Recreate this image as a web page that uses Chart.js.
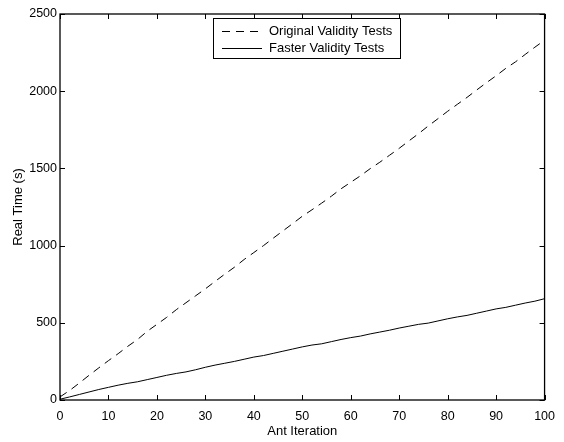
<!DOCTYPE html>
<html>
<head>
<meta charset="utf-8">
<title>Real Time vs Ant Iteration</title>
<script src="https://cdn.jsdelivr.net/npm/chart.js@4.4.1/dist/chart.umd.min.js"></script>
<style>
  html, body { margin: 0; padding: 0; background: #fff; }
  #wrap { width: 564px; height: 442px; position: relative; }
</style>
</head>
<body>
<div id="wrap"><canvas id="timeChart"></canvas></div>
<script>
// --- データ ---
const iterations = [0, 2, 4, 6, 8, 10, 12, 14, 16, 18, 20, 22, 24, 26, 28, 30, 32, 34, 36, 38, 40,
    42, 44, 46, 48, 50, 52, 54, 56, 58, 60, 62, 64, 66, 68, 70, 72, 74, 76, 78, 80,
    82, 84, 86, 88, 90, 92, 94, 96, 98, 100];
const originalTimes = [20, 62, 110, 160, 208, 255, 300, 348, 392, 445, 490, 535, 585, 630, 675, 720,
    768, 815, 860, 910, 955, 1000, 1048, 1095, 1142, 1190, 1232, 1275, 1320, 1368, 1410,
    1452, 1498, 1540, 1585, 1630, 1678, 1725, 1775, 1822, 1870, 1915, 1960, 2008, 2055,
    2100, 2148, 2190, 2238, 2285, 2330];
const fasterTimes = [5, 20, 36, 52, 68, 82, 96, 108, 118, 132, 146, 160, 172, 182, 196, 212,
    226, 238, 250, 264, 278, 288, 302, 316, 330, 344, 356, 364, 378, 392, 404,
    414, 428, 440, 452, 466, 478, 490, 498, 512, 526, 538, 548, 562, 576, 590,
    600, 614, 628, 640, 656];
const seriesLabels = ['Original Validity Tests', 'Faster Validity Tests'];
const xTicks = [0, 10, 20, 30, 40, 50, 60, 70, 80, 90, 100];
const yTicks = [0, 500, 1000, 1500, 2000, 2500];

const FONT = 'Liberation Sans, Arial, Helvetica, sans-serif';
const DASH = [8, 6];

// 枠線と内向きの目盛り (MATLAB風)
const frameTicksPlugin = {
    id: 'frameTicks',
    afterDatasetsDraw(chart) {
        const { ctx, chartArea: a, scales } = chart;
        const len = 5;
        ctx.save();
        ctx.strokeStyle = '#000';
        ctx.lineWidth = 1;
        ctx.setLineDash([]);
        ctx.beginPath();
        xTicks.forEach(v => {
            const px = Math.round(scales.x.getPixelForValue(v)) + 0.5;
            ctx.moveTo(px, a.bottom); ctx.lineTo(px, a.bottom - len);
            ctx.moveTo(px, a.top); ctx.lineTo(px, a.top + len);
        });
        yTicks.forEach(v => {
            const py = Math.round(scales.y.getPixelForValue(v)) + 0.5;
            ctx.moveTo(a.left, py); ctx.lineTo(a.left + len, py);
            ctx.moveTo(a.right, py); ctx.lineTo(a.right - len, py);
        });
        ctx.stroke();
        ctx.lineWidth = 1.3;
        ctx.strokeRect(a.left, a.top, a.right - a.left, a.bottom - a.top);
        ctx.restore();
    }
};

// 凡例 (枠付き、プロット内上部)
const boxLegendPlugin = {
    id: 'boxLegend',
    afterDraw(chart) {
        const { ctx } = chart;
        const box = { x: 213.5, y: 18.5, w: 187, h: 40 };
        ctx.save();
        ctx.fillStyle = '#fff';
        ctx.fillRect(box.x, box.y, box.w, box.h);
        ctx.strokeStyle = '#000';
        ctx.lineWidth = 1;
        ctx.strokeRect(box.x, box.y, box.w, box.h);
        const rows = [31, 48];
        chart.data.datasets.forEach((ds, i) => {
            const y = rows[i] + 0.5;
            ctx.setLineDash(ds.borderDash || []);
            ctx.beginPath();
            ctx.moveTo(222, y);
            ctx.lineTo(262, y);
            ctx.stroke();
            ctx.setLineDash([]);
            ctx.fillStyle = '#000';
            ctx.font = '13px ' + FONT;
            ctx.textBaseline = 'middle';
            ctx.textAlign = 'left';
            ctx.fillText(ds.label, 269, rows[i] + 0.5);
        });
        ctx.restore();
    }
};

function buildPoints(values) {
    return iterations.map((it, i) => ({ x: it, y: values[i] }));
}

function renderTimeChart() {
    const canvas = document.getElementById('timeChart');
    const config = {
        type: 'line',
        data: {
            datasets: [
                {
                    label: seriesLabels[0],
                    data: buildPoints(originalTimes),
                    borderColor: '#000',
                    borderWidth: 1,
                    borderDash: DASH,
                    pointRadius: 0,
                    tension: 0,
                    fill: false
                },
                {
                    label: seriesLabels[1],
                    data: buildPoints(fasterTimes),
                    borderColor: '#000',
                    borderWidth: 1,
                    pointRadius: 0,
                    tension: 0,
                    fill: false
                }
            ]
        },
        options: {
            responsive: true,
            maintainAspectRatio: false,
            animation: false,
            layout: { padding: { top: 14, right: 14, left: 0, bottom: 0 } },
            plugins: {
                legend: { display: false },
                tooltip: { enabled: false }
            },
            scales: {
                x: {
                    type: 'linear',
                    min: 0,
                    max: 100,
                    afterFit(scale) { scale.height = 42; },
                    afterBuildTicks(scale) { scale.ticks = xTicks.map(v => ({ value: v })); },
                    grid: { display: false, drawTicks: false },
                    border: { display: false },
                    ticks: {
                        color: '#000', padding: 9, maxRotation: 0,
                        font: { family: FONT, size: 12.5 },
                        callback: v => String(v)
                    },
                    title: {
                        display: true,
                        text: 'Ant Iteration',
                        color: '#000',
                        font: { family: FONT, size: 13 },
                        padding: { top: 0, bottom: 3 }
                    }
                },
                y: {
                    type: 'linear',
                    min: 0,
                    max: 2500,
                    afterFit(scale) { scale.width = 60; },
                    afterBuildTicks(scale) { scale.ticks = yTicks.map(v => ({ value: v })); },
                    grid: { display: false, drawTicks: false },
                    border: { display: false },
                    ticks: {
                        color: '#000', padding: 3,
                        font: { family: FONT, size: 12.5 },
                        callback: v => String(v)
                    },
                    title: {
                        display: true,
                        text: 'Real Time (s)',
                        color: '#000',
                        font: { family: FONT, size: 13 },
                        padding: { top: 11, bottom: 0 }
                    }
                }
            }
        },
        plugins: [frameTicksPlugin, boxLegendPlugin]
    };
    new Chart(canvas.getContext('2d'), config);
}

document.addEventListener('DOMContentLoaded', renderTimeChart);
</script>
</body>
</html>
